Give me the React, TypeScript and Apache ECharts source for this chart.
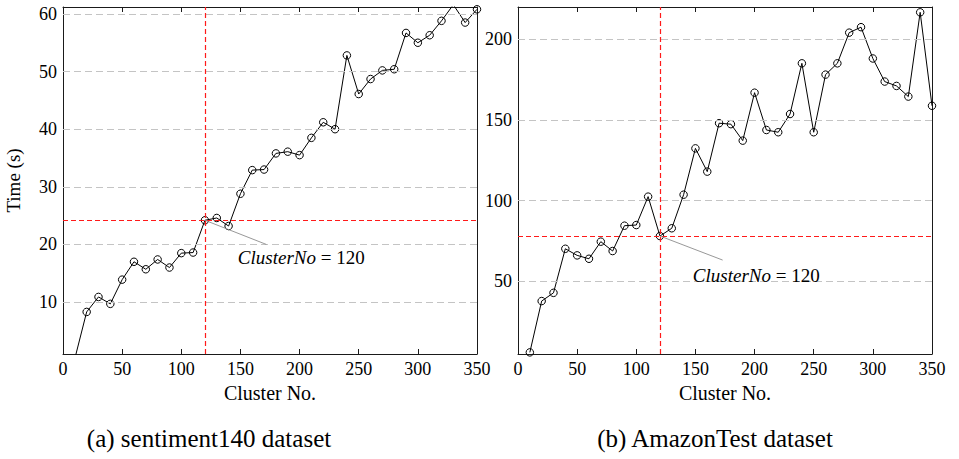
import React, { useEffect, useRef } from "react";
import * as echarts from "echarts";

// ---- data ----
const clusterNos = [
  10, 20, 30, 40, 50, 60, 70, 80, 90, 100, 110, 120, 130, 140, 150, 160, 170, 180,
  190, 200, 210, 220, 230, 240, 250, 260, 270, 280, 290, 300, 310, 320, 330, 340, 350,
];
const timeSentiment140 = [
  0.2, 8.3, 10.9, 9.7, 13.9, 17.0, 15.7, 17.4, 16.0, 18.5, 18.6, 24.2, 24.6, 23.2,
  28.8, 32.9, 33.0, 35.8, 36.1, 35.5, 38.5, 41.2, 40.0, 52.8, 46.1, 48.7, 50.2, 50.4,
  56.7, 55.0, 56.3, 58.8, 61.6, 58.5, 60.8,
];
const timeAmazonTest = [
  6.0, 37.8, 42.9, 70.2, 66.1, 64.0, 74.6, 68.8, 84.5, 84.9, 102.5, 78.1, 82.9, 103.7,
  132.4, 118.0, 148.0, 147.4, 137.2, 166.9, 143.8, 142.4, 153.7, 185.1, 142.4, 178.1,
  185.1, 204.1, 207.5, 188.1, 173.8, 171.1, 164.5, 216.7, 158.8,
];
const yTicksSentiment = [10, 20, 30, 40, 50, 60];
const yTicksAmazon = [50, 100, 150, 200];
const chosenCluster = 120;
const xRange = [0, 350];
const yRangeSentiment = [1, 61.2];
const yRangeAmazon = [5, 220];
const annotationText = "ClusterNo";
const annotationValue = " = 120";
// annotation anchors in data coordinates: [line end], [label centre]
const annoSentiment = { lineEnd: [172, 20.0], label: [201.4, 17.7] };
const annoAmazon = { lineEnd: [173, 63.2], label: [201.4, 53.9] };
const captions = ["(a) sentiment140 dataset", "(b) AmazonTest dataset"];
const xAxisName = "Cluster No.";
const yAxisName = "Time (s)";

const FONT = "'Liberation Serif', 'Times New Roman', serif";
const FRAME = "#1a1a1a";

function App() {
  const ref = useRef<HTMLDivElement>(null);

  useEffect(() => {
    if (!ref.current) return;
    const chart = echarts.init(ref.current, undefined, { renderer: "svg" });

    const grids = [
      { left: 63, top: 7, width: 414, height: 347 },
      { left: 518, top: 7, width: 414, height: 347 },
    ];

    const bottomX = (gi: number, name: string) => ({
      type: "value",
      gridIndex: gi,
      position: "bottom",
      min: xRange[0],
      max: xRange[1],
      interval: 50,
      name,
      nameLocation: "middle",
      nameGap: 29,
      nameTextStyle: { fontFamily: FONT, fontSize: 20, color: "#000" },
      axisLine: { show: true, onZero: false, lineStyle: { color: FRAME, width: 1 } },
      axisTick: { show: true, inside: true, length: 5, lineStyle: { color: FRAME } },
      axisLabel: {
        show: true,
        margin: 6,
        fontFamily: FONT,
        fontSize: 18,
        color: "#000",
        showMinLabel: true,
        showMaxLabel: true,
      },
      splitLine: { show: false },
    });
    const topX = (gi: number) => ({
      type: "value",
      gridIndex: gi,
      position: "top",
      min: xRange[0],
      max: xRange[1],
      interval: 50,
      axisLine: { show: true, onZero: false, lineStyle: { color: FRAME, width: 1 } },
      axisTick: { show: true, inside: true, length: 5, lineStyle: { color: FRAME } },
      axisLabel: { show: false },
      splitLine: { show: false },
    });
    const leftY = (gi: number, range: number[], ticks: number[], name: string) => ({
      type: "value",
      gridIndex: gi,
      position: "left",
      min: range[0],
      max: range[1],
      name,
      nameLocation: "middle",
      nameGap: 40,
      nameRotate: 90,
      nameTextStyle: { fontFamily: FONT, fontSize: 19, color: "#000" },
      axisLine: { show: true, onZero: false, lineStyle: { color: FRAME, width: 1 } },
      axisTick: {
        show: true,
        inside: true,
        length: 5,
        lineStyle: { color: FRAME },
        customValues: ticks,
      },
      axisLabel: {
        show: true,
        margin: 6,
        fontFamily: FONT,
        fontSize: 18,
        color: "#000",
        customValues: ticks,
      },
      splitLine: { show: false },
    });
    const rightY = (gi: number, range: number[], ticks: number[]) => ({
      type: "value",
      gridIndex: gi,
      position: "right",
      min: range[0],
      max: range[1],
      axisLine: { show: true, onZero: false, lineStyle: { color: FRAME, width: 1 } },
      axisTick: {
        show: true,
        inside: true,
        length: 5,
        lineStyle: { color: FRAME },
        customValues: ticks,
      },
      axisLabel: { show: false },
      splitLine: { show: false },
    });

    const gridSeries = (xi: number, yi: number, ticks: number[]) => ({
      type: "line",
      xAxisIndex: xi,
      yAxisIndex: yi,
      data: [],
      silent: true,
      z: 1,
      markLine: {
        silent: true,
        symbol: ["none", "none"],
        label: { show: false },
        lineStyle: { color: "#c4c4c4", type: [7, 4], width: 1 },
        emphasis: { disabled: true },
        data: ticks.map((t) => ({ yAxis: t })),
      },
    });

    const dataSeries = (
      xi: number,
      yi: number,
      vals: number[],
      anno: { lineEnd: number[]; label: number[] }
    ) => {
      const idx = clusterNos.indexOf(chosenCluster);
      const chosenVal = vals[idx];
      return [
        {
          type: "line",
          xAxisIndex: xi,
          yAxisIndex: yi,
          data: [],
          silent: true,
          z: 2,
          markLine: {
            silent: true,
            symbol: ["none", "none"],
            label: { show: false },
            emphasis: { disabled: true },
            lineStyle: { color: "#ff1a1a", type: [5, 3], width: 1.2 },
            data: [{ xAxis: chosenCluster }, { yAxis: chosenVal }],
          },
        },
        {
          type: "line",
          xAxisIndex: xi,
          yAxisIndex: yi,
          data: clusterNos.map((c, i) => [c, vals[i]]),
          clip: true,
          z: 4,
          symbol: "circle",
          symbolSize: 7.5,
          showSymbol: true,
          showAllSymbol: true,
          itemStyle: { color: "transparent", borderColor: "#000", borderWidth: 1 },
          lineStyle: { color: "#000", width: 1 },
          emphasis: { disabled: true },
          markLine: {
            silent: true,
            symbol: ["none", "none"],
            label: { show: false },
            emphasis: { disabled: true },
            lineStyle: { color: "#8c8c8c", type: "solid", width: 0.9 },
            data: [[{ coord: [chosenCluster, chosenVal] }, { coord: anno.lineEnd }]],
          },
          markPoint: {
            silent: true,
            symbol: "circle",
            symbolSize: 0,
            emphasis: { disabled: true },
            label: {
              show: true,
              position: "inside",
              formatter: "{i|" + annotationText + "}{n|" + annotationValue + "}",
              rich: {
                i: { fontFamily: FONT, fontStyle: "italic", fontSize: 19, color: "#000" },
                n: { fontFamily: FONT, fontSize: 19, color: "#000" },
              },
            },
            data: [{ coord: anno.label }],
          },
        },
      ];
    };

    const option: any = {
      animation: false,
      backgroundColor: "#fff",
      textStyle: { fontFamily: FONT },
      grid: grids,
      xAxis: [bottomX(0, xAxisName), topX(0), bottomX(1, xAxisName), topX(1)],
      yAxis: [
        leftY(0, yRangeSentiment, yTicksSentiment, yAxisName),
        rightY(0, yRangeSentiment, yTicksSentiment),
        leftY(1, yRangeAmazon, yTicksAmazon, ""),
        rightY(1, yRangeAmazon, yTicksAmazon),
      ],
      series: [
        gridSeries(0, 0, yTicksSentiment),
        gridSeries(2, 2, yTicksAmazon),
        ...dataSeries(0, 0, timeSentiment140, annoSentiment),
        ...dataSeries(2, 2, timeAmazonTest, annoAmazon),
      ],
      graphic: [
        {
          type: "text",
          x: 209,
          y: 438,
          style: {
            text: captions[0],
            fontFamily: FONT,
            fontSize: 25,
            fill: "#000",
            align: "center",
            verticalAlign: "middle",
          },
        },
        {
          type: "text",
          x: 715,
          y: 438,
          style: {
            text: captions[1],
            fontFamily: FONT,
            fontSize: 25,
            fill: "#000",
            align: "center",
            verticalAlign: "middle",
          },
        },
      ],
    };

    chart.setOption(option);
    return () => chart.dispose();
  }, []);

  return (
    <div
      ref={ref}
      style={{ position: "absolute", left: 0, top: 0, width: 959, height: 459 }}
    />
  );
}

export default App;
